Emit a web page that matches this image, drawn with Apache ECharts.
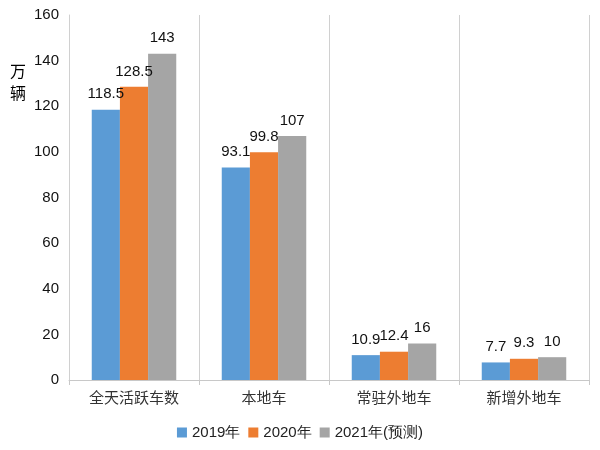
<!DOCTYPE html>
<html>
<head>
<meta charset="utf-8">
<script src="https://cdn.jsdelivr.net/npm/echarts@6/dist/echarts.min.js"></script>
<style>html,body{margin:0;padding:0;background:#fff}#c{width:600px;height:450px}</style>
</head>
<body>
<div id="c"></div>
<script>
const categories = ['全天活跃车数', '本地车', '常驻外地车', '新增外地车'];
const seriesNames = ['2019年', '2020年', '2021年(预测)'];
const v2019 = [118.5, 93.1, 10.9, 7.7];
const v2020 = [128.5, 99.8, 12.4, 9.3];
const v2021 = [143, 107, 16, 10];
const yTicks = [0, 20, 40, 60, 80, 100, 120, 140, 160];

const colors = ['#5B9BD5', '#ED7D31', '#A5A5A5'];
const latin = 'Liberation Sans, Helvetica, Arial, sans-serif';
const cjk = '"Noto Sans CJK SC", sans-serif';

const chart = echarts.init(document.getElementById('c'), null, {renderer: 'canvas'});
const mk = (name, data, i) => ({
  name, type: 'bar', data,
  barGap: '0%', barCategoryGap: '35%',
  itemStyle: {color: colors[i]},
  label: {show: true, position: 'top', distance: 8, color: '#111', fontSize: 15, fontFamily: latin}
});
chart.setOption({
  animation: false,
  grid: {left: 69, right: 11, top: 15, bottom: 70},
  legend: {
    bottom: 5, left: 'center', itemWidth: 10, itemHeight: 10, itemGap: 8,
    icon: 'rect',
    textStyle: {fontSize: 15, color: '#222', fontFamily: latin},
    data: seriesNames
  },
  xAxis: {
    type: 'category', data: categories,
    axisLine: {lineStyle: {color: '#c8c8c8'}},
    axisTick: {show: true, length: 5, lineStyle: {color: '#c8c8c8'}},
    splitLine: {show: true, lineStyle: {color: '#d0d0d0'}},
    axisLabel: {fontSize: 15, color: '#333', margin: 10, fontFamily: cjk}
  },
  yAxis: {
    type: 'value', min: yTicks[0], max: yTicks[yTicks.length - 1], interval: 20,
    axisLine: {show: true, lineStyle: {color: '#d0d0d0'}},
    splitLine: {show: false},
    axisTick: {show: false},
    axisLabel: {fontSize: 15, color: '#111', margin: 10, fontFamily: latin}
  },
  graphic: [{
    type: 'text', left: 10, top: 60,
    style: {text: '万\n辆', fontSize: 16, fill: '#000', lineHeight: 22, fontFamily: cjk}
  }],
  series: [mk(seriesNames[0], v2019, 0), mk(seriesNames[1], v2020, 1), mk(seriesNames[2], v2021, 2)]
});
</script>
</body>
</html>
